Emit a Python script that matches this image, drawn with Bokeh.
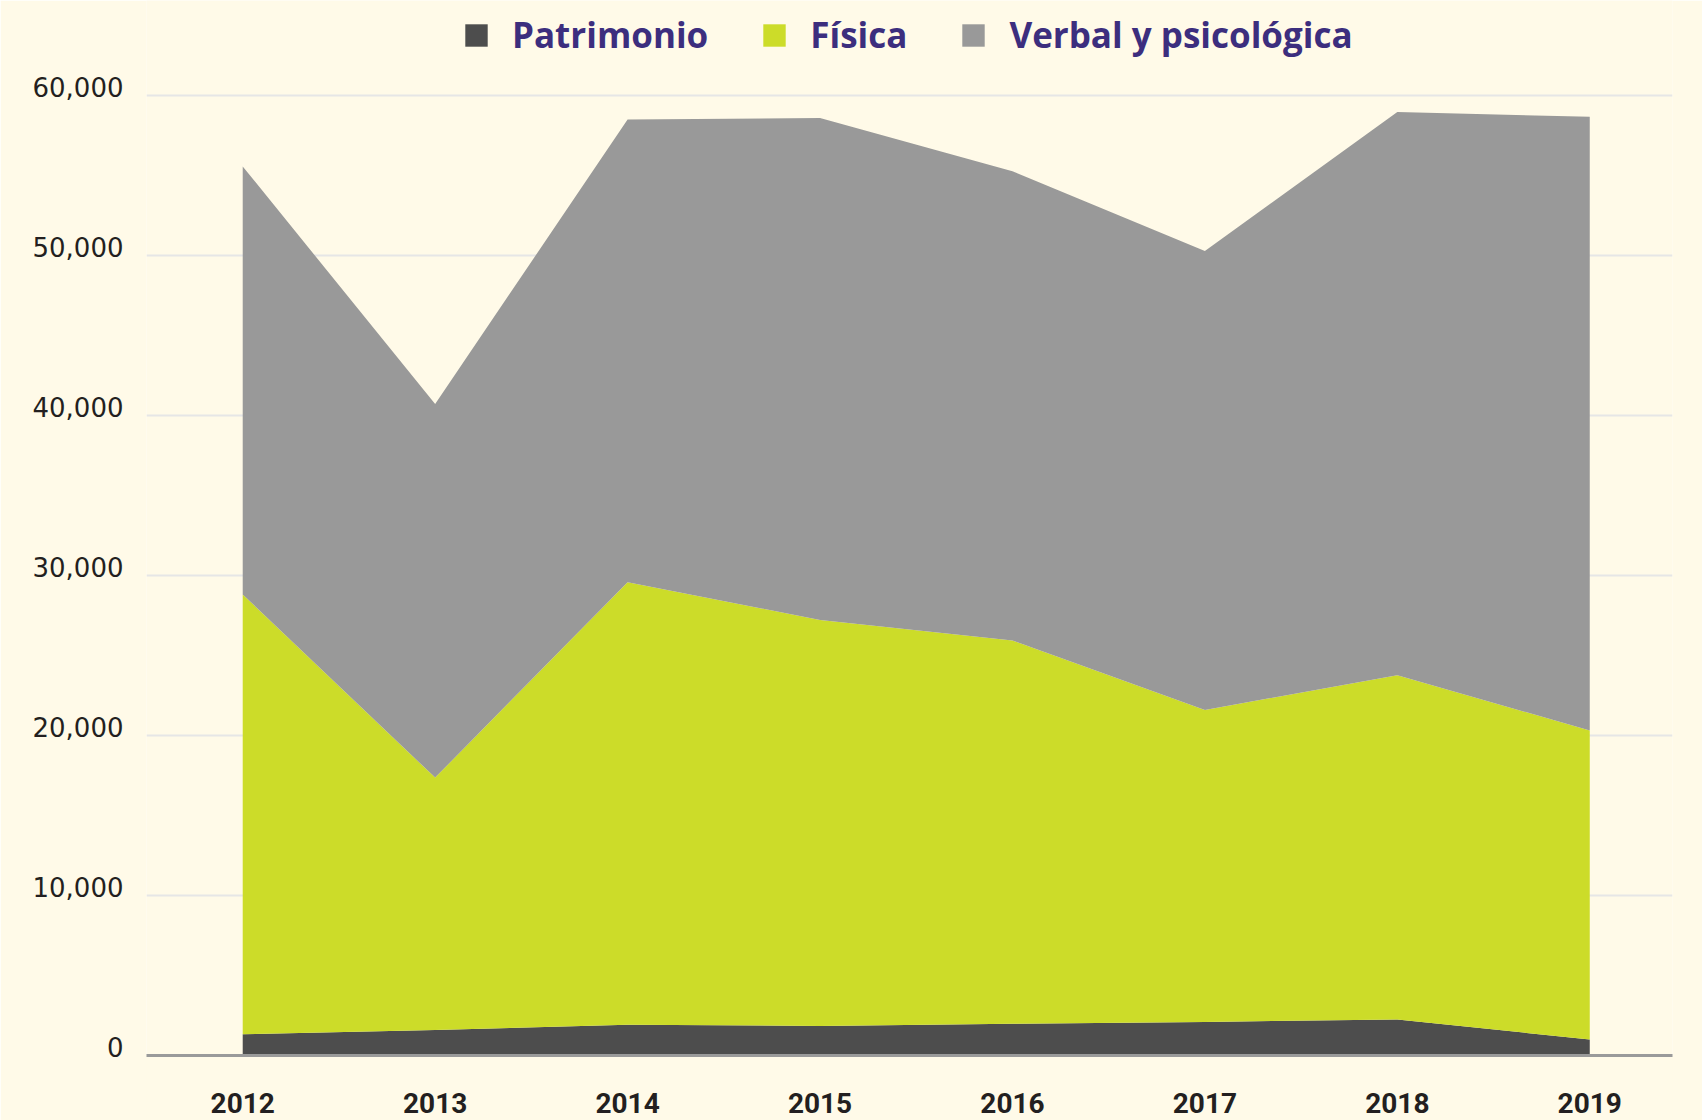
from bokeh.plotting import figure
from bokeh.models import Legend, LegendItem, ColumnDataSource, FixedTicker, LinearAxis, Range1d
from bokeh.embed import file_html
from bokeh.resources import INLINE

years = [2012, 2013, 2014, 2015, 2016, 2017, 2018, 2019]
patrimonio = [1330, 1600, 1920, 1850, 1980, 2100, 2250, 1000]
fisica = [27470, 15760, 27650, 25360, 23950, 19490, 21510, 19300]
verbal = [26740, 23340, 28900, 31350, 29310, 28670, 35180, 38340]
series_names = ["Patrimonio", "Física", "Verbal y psicológica"]
y_ticks = [0, 10000, 20000, 30000, 40000, 50000, 60000]
y_tick_labels = ["0", "10,000", "20,000", "30,000", "40,000", "50,000", "60,000"]

BG = "#FFFAE8"
COLORS = ["#4D4D4D", "#CCDC29", "#999999"]

source = ColumnDataSource(dict(year=years, Patrimonio=patrimonio, Fisica=fisica, Verbal=verbal))

# the frame reaches the top of the page so that the legend can sit above the data
Y_END = 65905
LABEL_SHIFT = 500  # tick labels sit slightly above their grid lines

p = figure(width=1702, height=1120, x_range=(2011.5, 2019.43), y_range=(0, Y_END),
           output_backend="svg", toolbar_location=None,
           background_fill_color=BG, border_fill_color=BG, outline_line_color=None,
           min_border_left=146, min_border_right=30, min_border_top=0, min_border_bottom=65)

renderers = p.varea_stack(stackers=["Patrimonio", "Fisica", "Verbal"], x="year",
                          color=COLORS, source=source)

# x axis
p.xaxis.ticker = FixedTicker(ticks=years)
p.xaxis.major_tick_line_color = None
p.xaxis.minor_tick_line_color = None
p.xaxis.axis_line_color = "#9A9A9A"
p.xaxis.axis_line_width = 3
p.xaxis.major_label_standoff = 31
p.xaxis.major_label_text_font = "Roboto"
p.xaxis.major_label_text_font_style = "bold"
p.xaxis.major_label_text_font_size = "28px"
p.xaxis.major_label_text_color = "#231F20"

# y axis: labels placed on a range shifted so they sit just above grid lines
p.yaxis.visible = False
p.extra_y_ranges = {"labels": Range1d(-LABEL_SHIFT, Y_END - LABEL_SHIFT)}
yax = LinearAxis(y_range_name="labels", ticker=FixedTicker(ticks=y_ticks),
                 major_label_overrides={t: s for t, s in zip(y_ticks, y_tick_labels)},
                 axis_line_color=None, major_tick_line_color=None, minor_tick_line_color=None,
                 major_label_standoff=17, major_label_text_font="DejaVu Sans",
                 major_label_text_font_size="26px", major_label_text_color="#231F20")
p.add_layout(yax, "left")

p.xgrid.grid_line_color = None
p.ygrid.ticker = FixedTicker(ticks=y_ticks[1:])
p.ygrid.grid_line_color = "#E6E6E6"
p.ygrid.grid_line_width = 2
p.ygrid.level = "underlay"

legend = Legend(items=[LegendItem(label=n, renderers=[r]) for n, r in zip(series_names, renderers)],
                orientation="horizontal", location=(316, 997),
                background_fill_alpha=0, border_line_color=None, padding=0, margin=0,
                spacing=52, label_standoff=22, glyph_width=28, glyph_height=28, label_height=22,
                label_text_font="Open Sans", label_text_font_style="bold",
                label_text_font_size="35px", label_text_color="#3C2E7E")
p.add_layout(legend, "center")

open("out.html", "w").write(file_html(p, INLINE))
